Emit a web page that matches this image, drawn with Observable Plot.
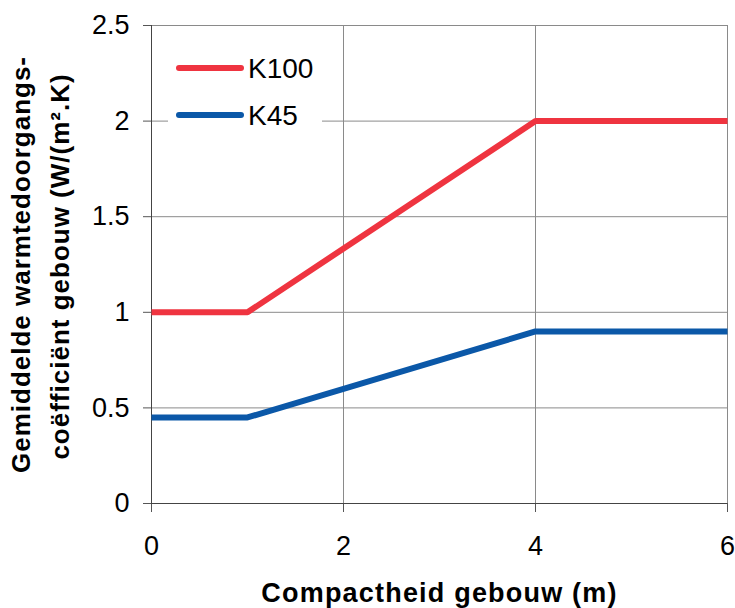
<!DOCTYPE html>
<html>
<head>
<meta charset="utf-8">
<script src="https://cdn.jsdelivr.net/npm/d3@7"></script>
<script src="https://cdn.jsdelivr.net/npm/@observablehq/plot@0.6"></script>
<style>
  html, body { margin: 0; padding: 0; background: #fff; }
  #wrap { position: relative; width: 735px; height: 608px; font-family: "Liberation Sans", Arial, sans-serif; }
  #legend { position: absolute; left: 168px; top: 40px; }
</style>
</head>
<body>
<div id="wrap"><div id="chart"></div><svg id="legend" width="154" height="92"></svg></div>
<script>
// Data
const compactheid = [0, 1, 4, 6];
const k100 = [1, 1, 2, 2];
const k45 = [0.45, 0.45, 0.9, 0.9];
const seriesNames = ["K100", "K45"];
const seriesColors = ["#ef3440", "#0b58a8"];
const xTicks = [0, 2, 4, 6];
const yTicks = [0, 0.5, 1, 1.5, 2, 2.5];
const xTitle = "Compactheid gebouw (m)";
const yTitle1 = "Gemiddelde warmtedoorgangs-";
const yTitle2 = "coëfficiënt gebouw (W/(m².K)";

const rows = [];
[k100, k45].forEach((vals, s) => {
  compactheid.forEach((x, i) => rows.push({series: seriesNames[s], x, y: vals[i], color: seriesColors[s]}));
});

const font = '"Liberation Sans", Arial, sans-serif';

const chart = Plot.plot({
  width: 735,
  height: 608,
  marginLeft: 151,
  marginRight: 8,
  marginTop: 25,
  marginBottom: 105,
  style: {fontFamily: font, background: "#fff", overflow: "visible"},
  x: {domain: [0, 6]},
  y: {domain: [0, 2.5]},
  marks: [
    Plot.gridY(yTicks.filter(d => d > 0), {stroke: "#8a8a8a", strokeOpacity: 1, strokeWidth: 1}),
    Plot.gridX(xTicks.filter(d => d > 0), {stroke: "#8a8a8a", strokeOpacity: 1, strokeWidth: 1}),
    Plot.axisY(yTicks, {tickSize: 8, tickPadding: 14, fontSize: 27, stroke: "#555", color: "#000", tickFormat: d => String(d), label: null}),
    Plot.axisX(xTicks, {tickSize: 9, tickPadding: 23, fontSize: 27, stroke: "#555", color: "#000", tickFormat: d => String(d), label: null}),
    Plot.ruleX([0], {stroke: "#444", strokeWidth: 1}),
    Plot.ruleY([0], {stroke: "#444", strokeWidth: 1}),
    Plot.line(rows, {x: "x", y: "y", z: "series", stroke: "color", strokeWidth: 6, strokeLinecap: "butt", strokeLinejoin: "miter"}),
    Plot.text([yTitle1], {text: d => d, frameAnchor: "left", textAnchor: "middle", dx: -130, rotate: -90, fontSize: 26, fontWeight: "bold", lineAnchor: "middle", fill: "#000", className: "ytitle"}),
    Plot.text([yTitle2], {text: d => d, frameAnchor: "left", textAnchor: "middle", dx: -91, dy: 2, rotate: -90, fontSize: 26, fontWeight: "bold", lineAnchor: "middle", fill: "#000", className: "ytitle"}),
    Plot.text([xTitle], {text: d => d, frameAnchor: "bottom", textAnchor: "middle", dy: 79, fontSize: 27, fontWeight: "bold", lineAnchor: "top", fill: "#000", className: "xtitle"})
  ]
});
document.getElementById("chart").appendChild(chart);
d3.select(chart).selectAll(".ytitle text").attr("letter-spacing", 1).style("font-variant-ligatures", "none");
d3.select(chart).selectAll(".xtitle text").attr("letter-spacing", 1.2);

// Legend (white box over the gridlines, inside the plot area)
const lg = d3.select("#legend");
lg.append("rect").attr("width", 154).attr("height", 92).attr("fill", "#fff");
const items = lg.selectAll("g").data(seriesNames).join("g")
  .attr("transform", (d, i) => `translate(0, ${28 + i * 47})`);
items.append("line").attr("x1", 11).attr("x2", 73).attr("y1", 0).attr("y2", 0)
  .attr("stroke", (d, i) => seriesColors[i]).attr("stroke-width", 6).attr("stroke-linecap", "round");
items.append("text").attr("x", 80).attr("y", 0).attr("dy", "0.36em")
  .attr("font-family", font).attr("font-size", 28).attr("fill", "#000").text(d => d);
</script>
</body>
</html>
